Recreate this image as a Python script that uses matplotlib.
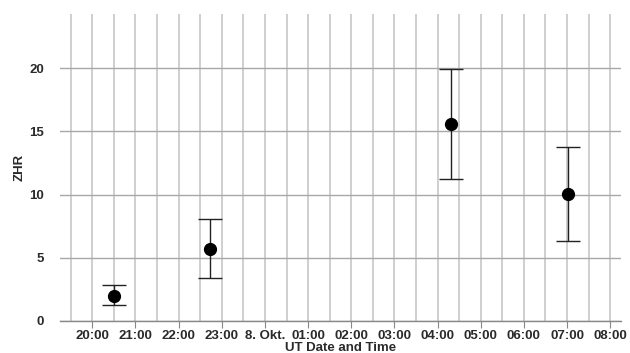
import datetime as dt
import matplotlib
matplotlib.use("Agg")
import matplotlib.pyplot as plt
import matplotlib.dates as mdates

plt.rcParams["font.family"] = ["Liberation Sans", "DejaVu Sans"]

# observation periods (UT) and ZHR values
times = ["2023-10-07 20:30", "2023-10-07 22:44", "2023-10-08 04:19", "2023-10-08 07:01"]
zhr = [1.96, 5.68, 15.59, 10.02]
zhr_lo = [1.22, 3.36, 11.25, 6.29]
zhr_hi = [2.80, 8.03, 19.92, 13.79]

x_start = "2023-10-07 19:15"
x_end = "2023-10-08 08:15"
y_ticks = [0, 5, 10, 15, 20]
y_max = 24.3

t = [dt.datetime.strptime(s, "%Y-%m-%d %H:%M") for s in times]
err = [[v - lo for v, lo in zip(zhr, zhr_lo)], [hi - v for v, hi in zip(zhr, zhr_hi)]]

fig = plt.figure(figsize=(6.3, 3.53), dpi=100)
ax = fig.add_axes([0.0952, 0.0915, 0.8905, 0.8685])

ax.errorbar(t, zhr, yerr=err, fmt="o", color="black", ms=8.5, ecolor="#222222",
            elinewidth=1.0, capsize=8.3, capthick=1.0, zorder=5)

ax.set_xlim(dt.datetime.strptime(x_start, "%Y-%m-%d %H:%M"),
            dt.datetime.strptime(x_end, "%Y-%m-%d %H:%M"))
ax.set_ylim(0, y_max)
ax.set_yticks(y_ticks)


def fmt(x, pos=None):
    d = mdates.num2date(x)
    if d.hour == 0 and d.minute == 0:
        return f"{d.day}. Okt."
    return d.strftime("%H:%M")


ax.xaxis.set_major_locator(mdates.HourLocator())
ax.xaxis.set_minor_locator(mdates.MinuteLocator(byminute=[30]))
ax.xaxis.set_major_formatter(plt.FuncFormatter(fmt))

ax.grid(True, axis="x", which="both", color="#cccccc", lw=1.3)
ax.grid(True, axis="y", which="major", color="#a8a8a8", lw=1.0)
ax.set_axisbelow(True)

for s in ["top", "right", "left"]:
    ax.spines[s].set_visible(False)
ax.spines["bottom"].set_color("#888888")
ax.spines["bottom"].set_linewidth(1.0)

tc = "#2a2a2a"
fs = 9.5
ax.tick_params(axis="y", length=0, pad=11.5, labelsize=fs, labelcolor=tc)
ax.tick_params(axis="x", which="major", length=5, color="#888888", pad=1.5,
               labelsize=fs, labelcolor=tc)
ax.tick_params(axis="x", which="minor", length=0)
for lab in ax.get_xticklabels() + ax.get_yticklabels():
    lab.set_fontweight("bold")

ax.set_xlabel("UT Date and Time", fontsize=fs, fontweight="bold", color=tc)
ax.xaxis.set_label_coords(0.5, -0.071)
ax.set_ylabel("ZHR", fontsize=fs, fontweight="bold", color=tc)
ax.yaxis.set_label_coords(-0.062, 0.5)

fig.savefig("out.png", dpi=100)
